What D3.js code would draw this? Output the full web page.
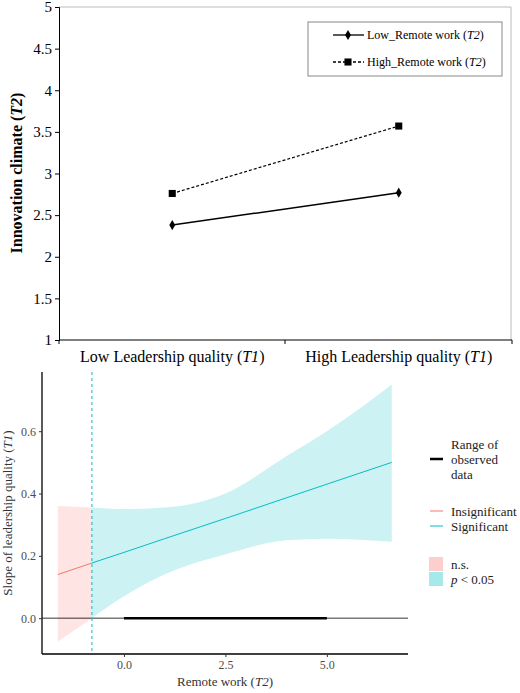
<!DOCTYPE html>
<html><head><meta charset="utf-8">
<script src="https://cdn.jsdelivr.net/npm/d3@7"></script>
<style>body{margin:0;background:#fff}text{font-family:"Liberation Serif",serif}</style>
</head><body><svg width="520" height="693"></svg>
<script>
// top chart data
var categories = ["Low Leadership quality", "High Leadership quality"];
var lowRemote = [2.38, 2.77];
var highRemote = [2.76, 3.57];
var topTicks = [1, 1.5, 2, 2.5, 3, 3.5, 4, 4.5, 5];

// bottom chart data (Johnson-Neyman)
var jnX = [-1.63, -0.79, 0, 1, 2.5, 4, 5, 6.6];
var jnSlope = [0.140, 0.177, 0.211, 0.255, 0.320, 0.386, 0.430, 0.500];
var jnLower = [-0.075, 0.0, 0.07, 0.14, 0.205, 0.25, 0.255, 0.245];
var jnUpper = [0.36, 0.355, 0.35, 0.355, 0.40, 0.52, 0.60, 0.75];
var threshold = -0.79;
var observed = [0, 5];
var bottomXTicks = [0, 2.5, 5];
var bottomYTicks = [0, 0.2, 0.4, 0.6];

var svg = d3.select("svg");

// ---------- top ----------
var x = d3.scaleBand().domain(categories).range([59, 512]);
var y = d3.scaleLinear().domain([1, 5]).range([340, 7]);

svg.append("path").attr("d", "M59,7H511V340").attr("fill", "none").attr("stroke", "#bbb");
var ya = svg.append("g").attr("transform", "translate(59,0)")
  .call(d3.axisLeft(y).tickValues(topTicks).tickSize(4).tickFormat(d3.format("")));
ya.selectAll("text").style("font-size", "15px").attr("fill", "#000");
var xa = svg.append("g").attr("transform", "translate(0,340)")
  .call(d3.axisBottom(x).tickSize(4).tickFormat(""));
xa.select(".domain").attr("d", "M59,4V0H512V4");
xa.selectAll(".tick line").remove();
xa.append("line").attr("x1", 285).attr("x2", 285).attr("y2", 4).attr("stroke", "#000");

categories.forEach(function (c) {
  var t = svg.append("text").attr("x", x(c) + x.bandwidth() / 2).attr("y", 362)
    .attr("text-anchor", "middle").style("font-size", "16px");
  t.append("tspan").text(c + " (");
  t.append("tspan").attr("font-style", "italic").text("T1");
  t.append("tspan").text(")");
});
var yl = svg.append("text").attr("transform", "translate(22,173) rotate(-90)")
  .attr("text-anchor", "middle").style("font-size", "16px").style("font-weight", "bold");
yl.append("tspan").text("Innovation climate (");
yl.append("tspan").attr("font-style", "italic").text("T2");
yl.append("tspan").text(")");

var cx = function (i) { return x(categories[i]) + x.bandwidth() / 2; };
var line = d3.line().x(function (d, i) { return cx(i); }).y(function (d) { return y(d); });
svg.append("path").attr("d", line(lowRemote)).attr("fill", "none").attr("stroke", "#000").attr("stroke-width", 1.5);
svg.append("path").attr("d", line(highRemote)).attr("fill", "none").attr("stroke", "#000").attr("stroke-width", 1.2).attr("stroke-dasharray", "3,2");
var diamond = d3.symbol().type(d3.symbolDiamond).size(30);
var square = d3.symbol().type(d3.symbolSquare).size(50);
lowRemote.forEach(function (v, i) {
  svg.append("path").attr("d", diamond()).attr("transform", "translate(" + cx(i) + "," + y(v) + ")");
});
highRemote.forEach(function (v, i) {
  svg.append("path").attr("d", square()).attr("transform", "translate(" + cx(i) + "," + y(v) + ")");
});

// legend
svg.append("rect").attr("x", 308).attr("y", 22).attr("width", 194).attr("height", 54)
  .attr("fill", "#fff").attr("stroke", "#888");
[["Low_Remote work (", diamond, null, 35], ["High_Remote work (", square, "3,2", 62]].forEach(function (l) {
  svg.append("line").attr("x1", 333).attr("x2", 364).attr("y1", l[3]).attr("y2", l[3])
    .attr("stroke", "#000").attr("stroke-width", 1.3).attr("stroke-dasharray", l[2]);
  svg.append("path").attr("d", l[1]()).attr("transform", "translate(348," + l[3] + ")");
  var t = svg.append("text").attr("x", 367).attr("y", l[3] + 4).style("font-size", "12px");
  t.append("tspan").text(l[0]);
  t.append("tspan").attr("font-style", "italic").text("T2");
  t.append("tspan").text(")");
});

// ---------- bottom ----------
var bx = d3.scaleLinear().domain([-2.02, 7.0]).range([42, 408]);
var by = d3.scaleLinear().domain([-0.115, 0.79]).range([654, 372]);
var red = "#F8766D", cyan = "#00BFC4";
var pts = jnX.map(function (v, i) { return { x: v, s: jnSlope[i], lo: jnLower[i], hi: jnUpper[i] }; });
var ns = pts.filter(function (d) { return d.x <= threshold; });
var sig = pts.filter(function (d) { return d.x >= threshold; });
var area = d3.area().curve(d3.curveMonotoneX).x(function (d) { return bx(d.x); })
  .y0(function (d) { return by(d.lo); }).y1(function (d) { return by(d.hi); });
var sline = d3.line().x(function (d) { return bx(d.x); }).y(function (d) { return by(d.s); });
svg.append("path").attr("d", area(ns)).attr("fill", red).attr("fill-opacity", 0.2);
svg.append("path").attr("d", area(sig)).attr("fill", cyan).attr("fill-opacity", 0.2);
svg.append("line").attr("x1", 42).attr("x2", 408).attr("y1", by(0)).attr("y2", by(0)).attr("stroke", "#000").attr("stroke-width", 0.8);
svg.append("line").attr("x1", bx(observed[0])).attr("x2", bx(observed[1])).attr("y1", by(0)).attr("y2", by(0)).attr("stroke", "#000").attr("stroke-width", 2.5);
svg.append("path").attr("d", sline(ns)).attr("fill", "none").attr("stroke", red);
svg.append("path").attr("d", sline(sig)).attr("fill", "none").attr("stroke", cyan);
svg.append("line").attr("x1", bx(threshold)).attr("x2", bx(threshold)).attr("y1", 372).attr("y2", 654)
  .attr("stroke", cyan).attr("stroke-dasharray", "3,3");

var bxa = svg.append("g").attr("transform", "translate(0,654)")
  .call(d3.axisBottom(bx).tickValues(bottomXTicks).tickSize(3).tickFormat(d3.format(".1f")));
bxa.select(".domain").attr("d", "M42,0H408");
var bya = svg.append("g").attr("transform", "translate(42,0)")
  .call(d3.axisLeft(by).tickValues(bottomYTicks).tickSize(3).tickFormat(d3.format(".1f")));
bya.select(".domain").attr("d", "M0,372V654");
[bxa, bya].forEach(function (a) {
  a.selectAll(".domain").attr("stroke-width", 1.3);
  a.selectAll("text").style("font-size", "12px").attr("fill", "#4d4d4d");
  a.selectAll(".tick line").attr("stroke", "#333");
});
var xt = svg.append("text").attr("x", 225).attr("y", 686).attr("text-anchor", "middle").style("font-size", "13px").attr("fill", "#333");
xt.append("tspan").text("Remote work (");
xt.append("tspan").attr("font-style", "italic").text("T2");
xt.append("tspan").text(")");
var ytl = svg.append("text").attr("transform", "translate(12,513) rotate(-90)").attr("text-anchor", "middle").style("font-size", "13px").attr("fill", "#333");
ytl.append("tspan").text("Slope of leadership quality (");
ytl.append("tspan").attr("font-style", "italic").text("T1");
ytl.append("tspan").text(")");

// bottom legend
svg.append("line").attr("x1", 430).attr("x2", 443).attr("y1", 459).attr("y2", 459).attr("stroke", "#000").attr("stroke-width", 2.5);
["Range of", "observed", "data"].forEach(function (s, i) {
  svg.append("text").attr("x", 451).attr("y", 449 + i * 15).style("font-size", "13px").attr("fill", "#222").text(s);
});
[["Insignificant", red, 511], ["Significant", cyan, 526]].forEach(function (l) {
  svg.append("line").attr("x1", 430).attr("x2", 443).attr("y1", l[2]).attr("y2", l[2]).attr("stroke", l[1]);
  svg.append("text").attr("x", 451).attr("y", l[2] + 5).style("font-size", "13px").attr("fill", "#222").text(l[0]);
});
svg.append("rect").attr("x", 429).attr("y", 557).attr("width", 14).attr("height", 14).attr("fill", red).attr("fill-opacity", 0.35);
svg.append("rect").attr("x", 429).attr("y", 572).attr("width", 14).attr("height", 14).attr("fill", cyan).attr("fill-opacity", 0.35);
svg.append("text").attr("x", 451).attr("y", 569).style("font-size", "13px").attr("fill", "#222").text("n.s.");
var pt = svg.append("text").attr("x", 451).attr("y", 584).style("font-size", "13px").attr("fill", "#222");
pt.append("tspan").attr("font-style", "italic").text("p");
pt.append("tspan").text(" <  0.05");
</script></body></html>
